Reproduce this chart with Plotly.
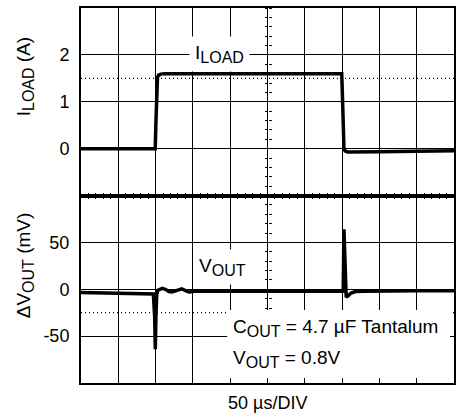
import plotly.graph_objects as go
from plotly.subplots import make_subplots

# ---- data (time in microseconds) ----
t_load = [0, 60, 99.5, 100.5, 101.5, 102.5, 104, 107, 112, 200, 300, 349.5, 350.5, 351.5, 352.5, 354, 357, 400, 450, 500]
i_load = [0.0, 0.0, 0.0, 0.6, 1.35, 1.52, 1.57, 1.59, 1.6, 1.6, 1.6, 1.6, 1.1, 0.3, 0.0, -0.05, -0.07, -0.065, -0.055, -0.045]

t_vout = [0, 50, 97, 98.8, 99.6, 100.4, 101.5, 103, 106, 109, 113, 118, 122, 127, 132, 135, 140, 145,
          150, 156, 200, 300, 351.5, 352.5, 354, 355.5, 358, 362, 368, 380, 450, 500]
v_out = [-3.5, -4, -5, -30, -64, -30, -6, -1, 0.5, 1, 0, -2.5, -3, -1.5, 0.5, 0.5, -1.5, -3,
         -2.5, -2, -2, -1.5, -2, 64, 20, -8.5, -7, -4, -2.5, -2, -1.5, -1.5]

load_ticks = [0, 1, 2]
load_labels = ["0", "1", "2"]
vout_ticks = [-50, 0, 50]
vout_labels = ["-50", "0", "50"]
load_ref = 1.5
vout_ref = -25

W, H = 458, 419
L, R, T, B = 81, 2, 8, 36
PW, PH = W - L - R, H - T - B


def px(x):
    return (x - L) / PW


def py(y):
    return 1 - (y - T) / PH


FONT = "Arial, Liberation Sans, sans-serif"

fig = make_subplots(rows=2, cols=1, shared_xaxes=True, vertical_spacing=0)
fig.add_trace(go.Scatter(x=t_load, y=i_load, mode="lines",
                         line=dict(color="black", width=3.5), hoverinfo="skip"), row=1, col=1)
fig.add_trace(go.Scatter(x=t_vout, y=v_out, mode="lines",
                         line=dict(color="black", width=3.5), hoverinfo="skip"), row=2, col=1)

# empty traces so that centre graticule axes are drawn
for ya in ["y3", "y4", "y5", "y6"]:
    fig.add_trace(go.Scatter(x=[], y=[], xaxis="x" if ya in ("y3", "y4") else "x2", yaxis=ya,
                             showlegend=False, hoverinfo="skip"))

grid = dict(showgrid=True, gridcolor="black", gridwidth=1.4, zeroline=False,
            showline=True, linecolor="black", linewidth=2, mirror=True)
minor_x = dict(dtick=10, ticks="inside", ticklen=3, tickcolor="black", tickwidth=1, showgrid=False)

fig.update_layout(
    width=W, height=H, margin=dict(l=L, r=R, t=T, b=B),
    paper_bgcolor="white", plot_bgcolor="white", showlegend=False,
    font=dict(family=FONT, size=18, color="black"),
    xaxis=dict(range=[0, 500], dtick=50, tick0=0, showticklabels=False, ticks="inside", ticklen=3,
               tickcolor="black", minor=minor_x, **grid),
    xaxis2=dict(range=[0, 500], dtick=50, tick0=0, showticklabels=False, side="top", ticks="inside",
                ticklen=3, tickcolor="black", minor=minor_x, **grid),
    yaxis=dict(range=[-1, 3], tickvals=load_ticks, ticktext=load_labels, ticks="",
               ticklabelstandoff=6, tickfont=dict(size=18), **grid),
    yaxis2=dict(range=[-100, 100], tickvals=vout_ticks, ticktext=vout_labels, ticks="",
                ticklabelstandoff=6, tickfont=dict(size=18), **grid),
)

centre = dict(anchor="free", position=0.5, showgrid=False, showline=False, zeroline=False,
              showticklabels=False, ticks="outside", ticklen=3, tickcolor="black", tickwidth=1)
fig.update_layout(
    yaxis3=dict(overlaying="y", side="left", range=[-1, 3], dtick=1,
                minor=dict(dtick=0.2, ticks="outside", ticklen=3, tickcolor="black"), **centre),
    yaxis4=dict(overlaying="y", side="right", range=[-1, 3], dtick=1,
                minor=dict(dtick=0.2, ticks="outside", ticklen=3, tickcolor="black"), **centre),
    yaxis5=dict(overlaying="y2", side="left", range=[-100, 100], dtick=50,
                minor=dict(dtick=10, ticks="outside", ticklen=3, tickcolor="black"), **centre),
    yaxis6=dict(overlaying="y2", side="right", range=[-100, 100], dtick=50,
                minor=dict(dtick=10, ticks="outside", ticklen=3, tickcolor="black"), **centre),
)

# dotted reference levels
fig.add_shape(type="line", xref="x domain", yref="y", x0=0, x1=1, y0=load_ref, y1=load_ref,
              line=dict(color="black", width=1.2, dash="1px,3px"))
fig.add_shape(type="line", xref="x2 domain", yref="y2", x0=0, x1=1, y0=vout_ref, y1=vout_ref,
              line=dict(color="black", width=1.2, dash="1px,3px"))

# white box behind the conditions text
fig.add_shape(type="rect", xref="paper", yref="paper", x0=px(228), x1=px(452), y0=py(378), y1=py(310),
              fillcolor="white", line=dict(width=0), layer="above")

SUB = '<sub><span style="font-size:16px">%s</span></sub>'
ann = []
ann.append(dict(text="I" + SUB % "LOAD" + " (A)", textangle=-90, x=px(25), y=py(77),
                xanchor="center", yanchor="middle", font=dict(size=19)))
ann.append(dict(text="ΔV" + SUB % "OUT" + " (mV)", textangle=-90, x=px(25), y=py(265),
                xanchor="center", yanchor="middle", font=dict(size=19)))
ann.append(dict(text="I" + SUB % "LOAD", x=px(190), y=py(54), xanchor="left", yanchor="middle",
                bgcolor="white", borderpad=5, font=dict(size=19)))
ann.append(dict(text="V" + SUB % "OUT", x=px(194), y=py(267), xanchor="left", yanchor="middle",
                bgcolor="white", borderpad=5, font=dict(size=19)))
ann.append(dict(text="C" + SUB % "OUT" + " = 4.7 µF Tantalum", x=px(232), y=py(328),
                xanchor="left", yanchor="middle", font=dict(size=19)))
ann.append(dict(text="V" + SUB % "OUT" + " = 0.8V", x=px(232), y=py(359),
                xanchor="left", yanchor="middle", font=dict(size=19)))
ann.append(dict(text="50 µs/DIV", x=px(269), y=py(403), xanchor="center", yanchor="middle",
                font=dict(size=18)))
for a in ann:
    a.update(xref="paper", yref="paper", showarrow=False)
fig.update_layout(annotations=ann)

fig.write_html("out.html", config={"displayModeBar": False},
               post_script="document.body.style.margin='0';document.body.style.padding='0';")
